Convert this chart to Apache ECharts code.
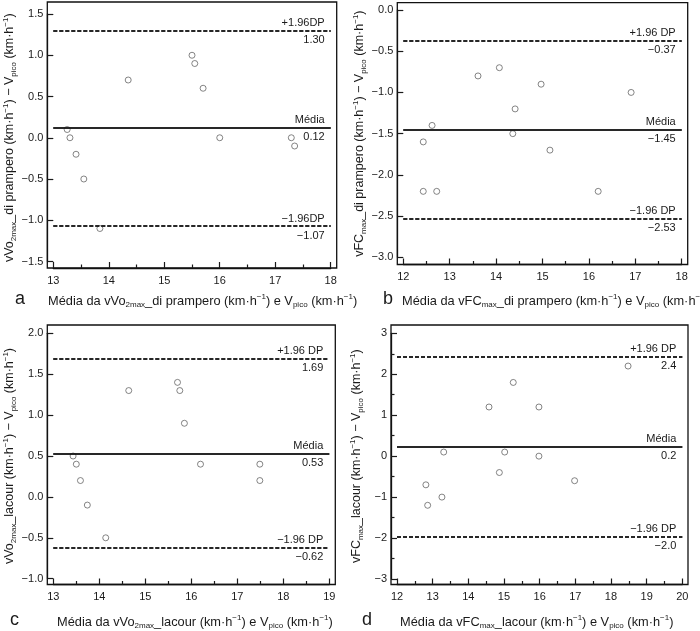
<!DOCTYPE html>
<html><head><meta charset="utf-8">
<script src="https://cdn.jsdelivr.net/npm/echarts@6/dist/echarts.min.js"></script>
<style>html,body{margin:0;padding:0;background:#fff}#c{width:700px;height:631px}</style>
</head><body><div id="c"></div>
<script>
// ---- data ----
const aX = [13.25, 13.30, 13.41, 13.55, 13.84, 14.35, 15.50, 15.55, 15.70, 16.00, 17.29, 17.35];
const aY = [0.1, 0.0, -0.2, -0.5, -1.1, 0.7, 1.0, 0.9, 0.6, 0.0, 0.0, -0.1];
const bX = [12.43, 12.43, 12.62, 12.72, 13.61, 14.07, 14.36, 14.41, 14.97, 15.16, 16.20, 16.91];
const bY = [-1.6, -2.2, -1.4, -2.2, -0.8, -0.7, -1.5, -1.2, -0.9, -1.7, -2.2, -1.0];
const cX = [13.43, 13.50, 13.59, 13.74, 14.14, 14.64, 15.70, 15.75, 15.85, 16.20, 17.49, 17.49];
const cY = [0.5, 0.4, 0.2, -0.1, -0.5, 1.3, 1.4, 1.3, 0.9, 0.4, 0.4, 0.2];
const dX = [12.81, 12.86, 13.26, 13.31, 14.58, 14.87, 15.02, 15.26, 15.98, 15.98, 16.98, 18.48];
const dY = [-0.7, -1.2, -1.0, 0.1, 1.2, -0.4, 0.1, 1.8, 1.2, 0.0, -0.6, 2.2];

const aLines = [1.30, 0.12, -1.07];
const bLines = [-0.37, -1.45, -2.53];
const cLines = [1.69, 0.53, -0.62];
const dLines = [2.43, 0.23, -1.97];
const aTop = ['+1.96DP', 'Média', '−1.96DP'];
const bTop = ['+1.96 DP', 'Média', '−1.96 DP'];
const cTop = ['+1.96 DP', 'Média', '−1.96 DP'];
const dTop = ['+1.96 DP', 'Média', '−1.96 DP'];
const aBot = ['1.30', '0.12', '−1.07'];
const bBot = ['−0.37', '−1.45', '−2.53'];
const cBot = ['1.69', '0.53', '−0.62'];
const dBot = ['2.4', '0.2', '−2.0'];

const aXRange = [13, 18], aYRange = [-1.5, 1.5], aYStep = 0.5;
const bXRange = [12, 18], bYRange = [-3, 0], bYStep = 0.5;
const cXRange = [13, 19], cYRange = [-1, 2], cYStep = 0.5;
const dXRange = [12, 20], dYRange = [-3, 3], dYStep = 1;

const letters = ['a', 'b', 'c', 'd'];
const xNames = [
  'Média da vVo{s|2max}_di prampero (km·h{p|−1}) e V{s|pico} (km·h{p|−1})',
  'Média da vFC{s|max}_di prampero (km·h{p|−1}) e V{s|pico} (km·h{p|−1})',
  'Média da vVo{s|2max}_lacour (km·h{p|−1}) e V{s|pico} (km·h{p|−1})',
  'Média da vFC{s|max}_lacour (km·h{p|−1}) e V{s|pico} (km·h{p|−1})'
];
const yNames = [
  'vVo{s|2max}_di prampero (km·h{p|−1}) − V{s|pico} (km·h{p|−1})',
  'vFC{s|max}_di prampero (km·h{p|−1}) − V{s|pico} (km·h{p|−1})',
  'vVo{s|2max}_lacour (km·h{p|−1}) − V{s|pico} (km·h{p|−1})',
  'vFC{s|max}_lacour (km·h{p|−1}) − V{s|pico} (km·h{p|−1})'
];

// ---- layout / style ----
const FONT = 'Liberation Sans, Arial, sans-serif';
const INK = '#1a1a1a';
const panels = [
  {x: aX, y: aY, xr: aXRange, yr: aYRange, ys: aYStep, lines: aLines, top: aTop, bot: aBot, dec: 1, yMinor: false,
   g: {l: 53.3, r: 330.7, t: 14, b: 261.5}, f: {l: 47.3, r: 336.7, t: 2, b: 268},
   title: {lx: 15, nx: 48, y: 293}},
  {x: bX, y: bY, xr: bXRange, yr: bYRange, ys: bYStep, lines: bLines, top: bTop, bot: bBot, dec: 1, yMinor: false,
   g: {l: 403.3, r: 681.7, t: 10, b: 257.3}, f: {l: 397.3, r: 687.7, t: 2.7, b: 264.5},
   title: {lx: 383, nx: 402, y: 293}},
  {x: cX, y: cY, xr: cXRange, yr: cYRange, ys: cYStep, lines: cLines, top: cTop, bot: cBot, dec: 1, yMinor: false,
   g: {l: 53.3, r: 329.3, t: 333.3, b: 578.7}, f: {l: 47.3, r: 335.3, t: 325, b: 584.5},
   title: {lx: 10, nx: 57, y: 614}},
  {x: dX, y: dY, xr: dXRange, yr: dYRange, ys: dYStep, lines: dLines, top: dTop, bot: dBot, dec: 0, yMinor: true,
   g: {l: 397, r: 682.3, t: 333.3, b: 579}, f: {l: 391, r: 688, t: 325, b: 584.5},
   title: {lx: 362, nx: 400, y: 614}}
];

const rich = {
  s: {fontSize: 8, lineHeight: 8, verticalAlign: 'bottom', fontFamily: FONT, color: INK},
  p: {fontSize: 8, lineHeight: 8, verticalAlign: 'top', fontFamily: FONT, color: INK}
};
const fmt = (dec) => (v) => (v < 0 ? '−' : '') + Math.abs(v).toFixed(dec);
const tickStyle = {color: INK, width: 1.2};

const grid = [], xAxis = [], yAxis = [], series = [], title = [];
panels.forEach((p, i) => {
  grid.push({left: p.g.l, top: p.g.t, width: p.g.r - p.g.l, height: p.g.b - p.g.t, show: false, containLabel: false});
  xAxis.push({
    type: 'value', gridIndex: i, min: p.xr[0], max: p.xr[1], interval: 1,
    offset: p.f.b - p.g.b,
    axisLine: {show: true, onZero: false, lineStyle: {color: '#111', width: 1.3}},
    axisTick: {show: true, inside: true, length: 6, lineStyle: tickStyle},
    minorTick: {show: true, splitNumber: 2, length: 3.5, lineStyle: tickStyle},
    splitLine: {show: false},
    axisLabel: {show: true, color: INK, fontFamily: FONT, fontSize: 11, margin: 7}
  });
  yAxis.push({
    type: 'value', gridIndex: i, min: p.yr[0], max: p.yr[1], interval: p.ys,
    offset: p.g.l - p.f.l,
    axisLine: {show: true, onZero: false, lineStyle: {color: '#111', width: 1.3}},
    axisTick: {show: true, inside: true, length: 6, lineStyle: tickStyle},
    minorTick: {show: p.yMinor, splitNumber: 2, length: 3.5, lineStyle: tickStyle},
    splitLine: {show: false},
    axisLabel: {show: true, color: INK, fontFamily: FONT, fontSize: 11, margin: 4, formatter: fmt(p.dec)},
    name: yNames[i], nameLocation: 'middle', nameGap: 26,
    nameTextStyle: {color: INK, fontFamily: FONT, fontSize: 12.5, lineHeight: 16, rich: rich}
  });
  const ml = [];
  p.lines.forEach((v, k) => {
    const ls = k === 1 ? {type: 'solid', color: INK, width: 1.5} : {type: [4, 2], color: INK, width: 1.5};
    ml.push({yAxis: v, lineStyle: ls,
      label: {show: true, position: 'insideEndTop', formatter: p.top[k], distance: [6, 2], color: INK, fontFamily: FONT, fontSize: 11}});
    ml.push({yAxis: v, lineStyle: ls,
      label: {show: true, position: 'insideEndBottom', formatter: p.bot[k], distance: [6, 4], color: INK, fontFamily: FONT, fontSize: 11}});
  });
  series.push({
    type: 'scatter', xAxisIndex: i, yAxisIndex: i,
    data: p.x.map((xv, k) => [xv, p.y[k]]),
    symbol: 'circle', symbolSize: 6,
    itemStyle: {color: '#fff', borderColor: '#555', borderWidth: 0.9},
    markLine: {silent: true, symbol: ['none', 'none'], animation: false, data: ml},
    animation: false
  });
  title.push({text: letters[i], left: p.title.lx, top: p.title.y - 3, padding: 0,
    textStyle: {fontFamily: FONT, fontSize: 18, fontWeight: 'normal', color: INK}});
  title.push({text: xNames[i], left: p.title.nx, top: p.title.y, padding: 0,
    textStyle: {fontFamily: FONT, fontSize: 12.8, fontWeight: 'normal', color: INK, lineHeight: 16, rich: rich}});
});
// frame boxes around each panel
panels.forEach((p) => {
  grid.push({left: p.f.l, top: p.f.t, width: p.f.r - p.f.l, height: p.f.b - p.f.t,
    show: true, borderColor: '#111', borderWidth: 1.3, backgroundColor: 'transparent'});
});

const chart = echarts.init(document.getElementById('c'), null, {renderer: 'canvas'});
chart.setOption({backgroundColor: '#fff', animation: false, grid, xAxis, yAxis, series, title});
</script></body></html>
